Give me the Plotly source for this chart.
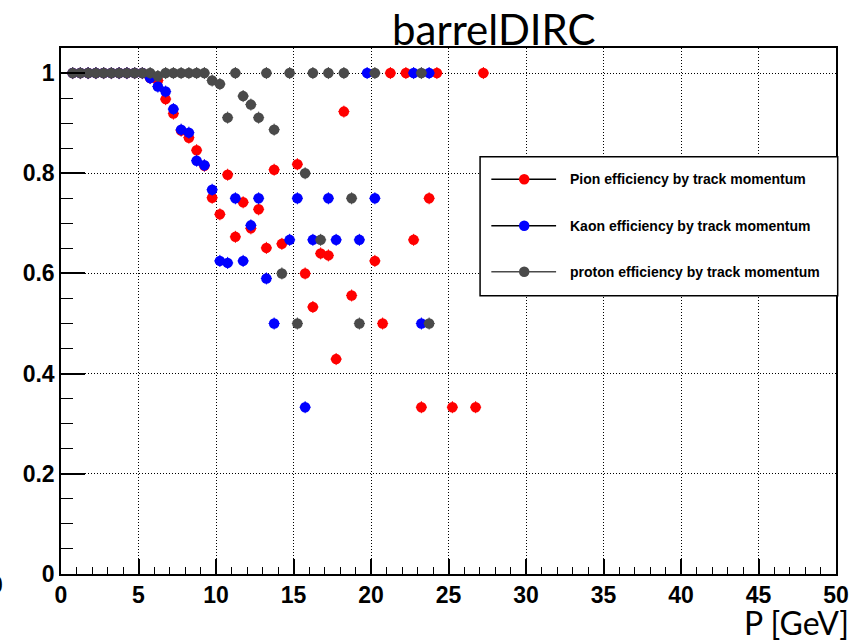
import plotly.graph_objects as go

# ---------------- data ----------------
series_names = [
    "Pion efficiency by track momentum",
    "Kaon efficiency by track momentum",
    "proton efficiency by track momentum",
]

pion_p = [0.75, 1.25, 1.75, 2.25, 2.75, 3.25, 3.75, 4.25, 4.75, 5.25,
          5.75, 6.25, 6.75, 7.25, 7.75, 8.25, 8.75, 9.25, 9.75, 10.25,
          10.75, 11.25, 11.75, 12.25, 12.75, 13.25, 13.75, 14.25, 15.25, 15.75,
          16.25, 16.75, 17.25, 17.75, 18.25, 18.75, 20.25, 20.75, 21.25, 22.25,
          22.75, 23.25, 23.75, 24.25, 25.25, 26.75, 27.25]
pion_eff = [1.0, 1.0, 1.0, 1.0, 1.0, 1.0, 1.0, 1.0, 1.0, 1.0,
            0.99, 0.985, 0.948, 0.919, 0.885, 0.871, 0.846, 0.815, 0.751, 0.718,
            0.797, 0.673, 0.742, 0.69, 0.728, 0.651, 0.807, 0.659, 0.818, 0.6,
            0.533, 0.64, 0.636, 0.429, 0.923, 0.556, 0.625, 0.5, 1.0, 1.0,
            0.667, 0.333, 0.75, 1.0, 0.333, 0.333, 1.0]

kaon_p = [0.75, 1.25, 1.75, 2.25, 2.75, 3.25, 3.75, 4.25, 4.75, 5.25,
          5.75, 6.25, 6.75, 7.25, 7.75, 8.25, 8.75, 9.25, 9.75, 10.25,
          10.75, 11.25, 11.75, 12.25, 12.75, 13.25, 13.75, 14.75, 15.25, 15.75,
          16.25, 17.25, 17.75, 19.25, 19.75, 20.25, 22.75, 23.25, 23.75]
kaon_eff = [1.0, 1.0, 1.0, 1.0, 1.0, 1.0, 1.0, 1.0, 1.0, 1.0,
            0.99, 0.973, 0.963, 0.928, 0.887, 0.881, 0.825, 0.816, 0.767, 0.625,
            0.621, 0.75, 0.625, 0.696, 0.75, 0.59, 0.5, 0.667, 0.75, 0.333,
            0.667, 0.75, 0.667, 0.667, 1.0, 0.75, 1.0, 0.5, 1.0]

proton_p = [0.75, 1.25, 1.75, 2.25, 2.75, 3.25, 3.75, 4.25, 4.75, 5.25,
            5.75, 6.25, 6.75, 7.25, 7.75, 8.25, 8.75, 9.25, 9.75, 10.25,
            10.75, 11.25, 11.75, 12.25, 12.75, 13.25, 13.75, 14.25, 14.75, 15.25,
            15.75, 16.25, 16.75, 17.25, 18.25, 18.75, 19.25, 20.25, 23.25, 23.75]
proton_eff = [1.0, 1.0, 1.0, 1.0, 1.0, 1.0, 1.0, 1.0, 1.0, 1.0,
              1.0, 0.994, 1.0, 1.0, 1.0, 1.0, 1.0, 1.0, 0.985, 0.978,
              0.911, 1.0, 0.954, 0.937, 0.911, 1.0, 0.887, 0.6, 1.0, 0.5,
              0.8, 1.0, 0.667, 1.0, 1.0, 0.75, 0.5, 1.0, 1.0, 0.5]

title_text = "barrelDIRC"
x_title = "P [GeV]"

# ---------------- styles ----------------
colors = ["#ff0000", "#0000ff", "#4a4a4a"]
legend_line_colors = ["#000000", "#000000", "#4a4a4a"]
W_FIG, H_FIG = 861, 644
L, R, T, B = 61, 839, 48, 574
PW, PH = R - L, B - T


def px2x(px):
    return (px - L) / PW


def py2y(py):
    return (B - py) / PH


fig = go.Figure()
for xs, ys, c, name in zip([pion_p, kaon_p, proton_p],
                           [pion_eff, kaon_eff, proton_eff],
                           colors, series_names):
    fig.add_trace(go.Scatter(
        x=xs, y=ys, mode="markers", name=name, showlegend=False,
        marker=dict(symbol="circle", size=10.5, color=c, line=dict(width=0)),
        error_x=dict(type="constant", value=0.36, width=0, thickness=1, color=c),
        error_y=dict(type="constant", value=0.012, width=0, thickness=1, color=c),
    ))

tickfont = dict(family="Liberation Sans, Arial, sans-serif", size=23,
                color="black", weight="bold")

fig.update_xaxes(
    range=[0, 50], tick0=0, dtick=5, ticks="inside", ticklen=15, tickwidth=1.5,
    tickcolor="black",
    minor=dict(dtick=1, ticks="inside", ticklen=7, tickwidth=1, tickcolor="black",
               showgrid=False),
    showgrid=True, gridcolor="black", gridwidth=1, griddash="1px,2px",
    showline=True, linecolor="black", linewidth=1.5, mirror=True,
    zeroline=False, tickfont=tickfont,
)
fig.update_yaxes(
    range=[0, 1.05], tick0=0, dtick=0.2, ticks="inside", ticklen=24, tickwidth=1.5,
    tickcolor="black",
    minor=dict(dtick=0.05, ticks="inside", ticklen=12, tickwidth=1, tickcolor="black",
               showgrid=False),
    showgrid=True, gridcolor="black", gridwidth=1, griddash="1px,2px",
    showline=True, linecolor="black", linewidth=1.5, mirror=True,
    zeroline=False, tickfont=tickfont,
)

shapes = []
annotations = []

# legend box
shapes.append(dict(type="rect", xref="paper", yref="paper", layer="above",
                   x0=px2x(481.7), x1=px2x(840.7), y0=py2y(295.7), y1=py2y(156.7),
                   fillcolor="white", line=dict(color="black", width=1.5)))
legend_rows = [179.3, 225.7, 271.7]
for name, c, lc, py in zip(series_names, colors, legend_line_colors, legend_rows):
    shapes.append(dict(type="line", xref="paper", yref="paper", layer="above",
                       x0=px2x(493), x1=px2x(558), y0=py2y(py), y1=py2y(py),
                       line=dict(color=lc, width=1.5)))
    shapes.append(dict(type="circle", xref="paper", yref="paper", layer="above",
                       xsizemode="pixel", ysizemode="pixel",
                       xanchor=px2x(526), yanchor=py2y(py),
                       x0=-5.25, x1=5.25, y0=-5.25, y1=5.25,
                       fillcolor=c, line=dict(width=0)))
    annotations.append(dict(text=name, xref="paper", yref="paper",
                            x=px2x(569.5), y=py2y(py), xanchor="left", yanchor="middle",
                            showarrow=False,
                            font=dict(family="Liberation Sans, Arial, sans-serif", size=14,
                                      color="black", weight="bold")))

# title and axis title
annotations.append(dict(text=title_text, xref="paper", yref="paper",
                        x=px2x(495.5), y=py2y(29), xanchor="center", yanchor="middle",
                        showarrow=False,
                        font=dict(family="Lato, sans-serif", size=42, color="black")))
annotations.append(dict(text=x_title, xref="paper", yref="paper",
                        x=px2x(854), y=py2y(622), xanchor="right", yanchor="middle",
                        showarrow=False,
                        font=dict(family="Lato, sans-serif", size=32, color="black")))
# clipped stray label at the far left edge (as in the reference)
annotations.append(dict(text="0", xref="paper", yref="paper",
                        x=px2x(5), y=py2y(585), xanchor="right", yanchor="middle",
                        showarrow=False, font=tickfont))

fig.update_layout(
    width=W_FIG, height=H_FIG,
    margin=dict(l=L, r=W_FIG - R, t=T, b=H_FIG - B, pad=0),
    paper_bgcolor="white", plot_bgcolor="white",
    showlegend=False,
    shapes=shapes, annotations=annotations,
)

fig.write_html("out.html")
